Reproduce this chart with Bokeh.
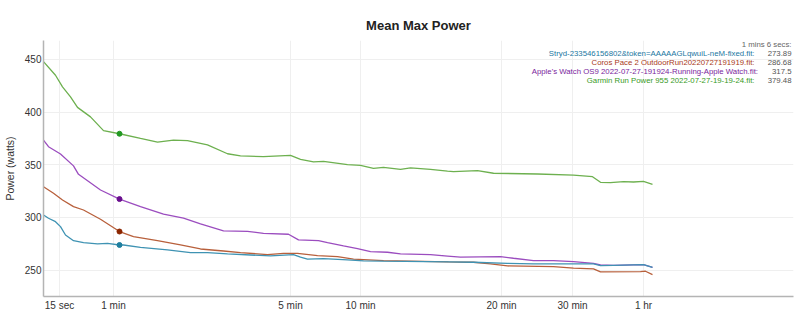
from bokeh.plotting import figure
from bokeh.models import Range1d, FixedTicker, Label
from bokeh.embed import file_html
from bokeh.resources import INLINE

# x is the chart's own time-axis position (custom, non-linear time scale)
x_ticks = [16, 70, 247, 317, 458, 529, 600, 750]
x_tick_labels = ["15 sec", "1 min", "5 min", "10 min", "20 min", "30 min", "1 hr", ""]
y_ticks = [250, 300, 350, 400, 450]

garmin_x = [0, 12, 19, 27, 34, 47, 60, 76, 97, 114, 130, 144, 164, 184, 197, 220, 247, 257, 270, 280,
            304, 317, 330, 340, 357, 367, 387, 404, 410, 434, 450, 494, 530, 549, 557, 567, 580, 590, 600, 609]
garmin_y = [448, 435, 424, 414.5, 404.5, 395.5, 382.5, 379.48, 375, 371.5, 373.5, 373, 369, 360.5, 358.5,
            357.7, 359, 355.2, 352.7, 353.3, 350.1, 349.5, 346.7, 347.6, 345.7, 347, 345.7, 344, 343.5,
            344.5, 342, 341.3, 340.3, 338.7, 333.4, 333, 334, 333.7, 334.3, 331.5]

apple_x = [0, 5, 17, 30, 35, 57, 76, 97, 120, 140, 157, 180, 204, 220, 245, 255, 275, 284, 300, 314,
           327, 344, 357, 387, 404, 417, 457, 470, 490, 510, 530, 550, 557, 570, 600, 609]
apple_y = [373.5, 367.2, 360.3, 349, 341, 326.1, 317.5, 310.3, 303.1, 299.3, 293.9, 287.2, 286.9, 285,
           284.1, 278.7, 278, 276.1, 273, 270.5, 267.6, 267, 265.4, 264.8, 263.4, 262.3, 262.9, 261.3,
           259, 259, 258.1, 256.5, 254.9, 254.6, 255.2, 252.7]

coros_x = [0, 10, 19, 30, 40, 57, 76, 90, 114, 137, 157, 180, 197, 224, 240, 254, 274, 294, 310, 340,
           405, 430, 447, 464, 510, 530, 550, 557, 597, 602, 609]
coros_y = [329.2, 323, 316.6, 310.3, 307.1, 298.3, 286.68, 281.8, 278, 273.9, 270.1, 268.2, 266.6,
           264.8, 266, 266, 263.8, 262.9, 260.4, 259, 257.8, 257.5, 255.9, 254, 253.4, 251.9, 251.3,
           248.4, 248.7, 249, 245.8]

stryd_x = [0, 5, 12, 17, 22, 30, 40, 54, 64, 76, 80, 97, 124, 147, 164, 184, 207, 227, 250, 257, 264,
           280, 304, 320, 340, 405, 430, 464, 490, 530, 550, 557, 570, 600, 609]
stryd_y = [302.4, 299.3, 296, 291.3, 283.4, 278, 276.1, 274.9, 275.5, 273.89, 273.9, 271.7, 269.2,
           266.6, 266.6, 265.4, 264.4, 263.5, 264.8, 262.3, 260.4, 261, 259.8, 258.8, 258.5, 257.8,
           257.5, 256.5, 255.9, 255.9, 255.9, 254.3, 254.6, 255.2, 252.7]

chart_title = "Mean Max Power"
readout_time = "1 mins 6 secs:"
readout_x = 76
series_names = ["Stryd-233546156802&token=AAAAAGLqwuiL-neM-fixed.fit",
                "Coros Pace 2 OutdoorRun20220727191919.fit",
                "Apple's Watch OS9 2022-07-27-191924-Running-Apple Watch.fit",
                "Garmin Run Power 955 2022-07-27-19-19-24.fit"]
readout_values = ["273.89", "286.68", "317.5", "379.48"]

FONT = "Liberation Sans"

p = figure(width=800, height=326, output_backend="svg", toolbar_location=None,
           x_range=Range1d(0, 750), y_range=Range1d(225, 468),
           min_border_left=43, min_border_right=7, min_border_top=40, min_border_bottom=30,
           title=chart_title)
p.outline_line_color = None
p.background_fill_color = "white"
p.border_fill_color = "white"

p.title.align = "center"
p.title.text_font = FONT
p.title.text_font_size = "13px"
p.title.text_font_style = "bold"
p.title.text_color = "#222222"
p.title.standoff = 15

p.xaxis.ticker = FixedTicker(ticks=x_ticks)
p.xaxis.major_label_overrides = {t: l for t, l in zip(x_ticks, x_tick_labels)}
p.yaxis.ticker = FixedTicker(ticks=y_ticks)
p.xgrid.ticker = FixedTicker(ticks=x_ticks)
p.ygrid.ticker = FixedTicker(ticks=y_ticks)
for g in (p.xgrid, p.ygrid):
    g.grid_line_color = "#efefef"
    g.grid_line_width = 1

for ax in (p.xaxis, p.yaxis):
    ax.axis_line_color = "#b4b4b4"
    ax.axis_line_width = 1.5
    ax.major_tick_line_color = None
    ax.minor_tick_line_color = None
    ax.major_tick_out = 0
    ax.major_tick_in = 0
    ax.major_label_text_font = FONT
    ax.major_label_text_font_size = "10px"
    ax.major_label_text_color = "#333333"
p.xaxis.major_label_standoff = 3
p.yaxis.major_label_standoff = 2
p.yaxis.axis_label = "Power (watts)"
p.yaxis.axis_label_text_font = FONT
p.yaxis.axis_label_text_font_size = "10.5px"
p.yaxis.axis_label_text_font_style = "normal"
p.yaxis.axis_label_text_color = "#333333"
p.yaxis.axis_label_standoff = 6

line_colors = ["#3f93b3", "#b8603c", "#9b4dbf", "#6db04f"]
marker_colors = ["#1f7f9f", "#8b2500", "#6a0f8e", "#229922"]
text_colors = ["#22779f", "#a93a18", "#7a1e9c", "#389a1e"]

series = [(stryd_x, stryd_y), (coros_x, coros_y), (apple_x, apple_y), (garmin_x, garmin_y)]
for i in [3, 2, 1, 0]:
    xs, ys = series[i]
    p.line(xs, ys, line_color=line_colors[i], line_width=1.3)
for i in range(4):
    p.scatter([readout_x], [float(readout_values[i])], size=5, color=marker_colors[i])

# readout block (top right)
right_x = 748
row_y = [456, 447.2, 438.6, 430]
name_right = [711, 711, 714.5, 711]
FS = "7.8px"
p.add_layout(Label(x=right_x, y=464.6, text=readout_time, text_align="right", text_baseline="middle",
                   text_font=FONT, text_font_size=FS, text_color="#666666"))
for i in range(4):
    p.add_layout(Label(x=right_x, y=row_y[i], text=readout_values[i], text_align="right",
                       text_baseline="middle", text_font=FONT, text_font_size=FS,
                       text_color="#555555"))
    p.add_layout(Label(x=name_right[i], y=row_y[i], text=series_names[i] + ":", text_align="right",
                       text_baseline="middle", text_font=FONT, text_font_size=FS,
                       text_color=text_colors[i]))

# edit icon at top right (canvas units)
p.add_layout(Label(x=774, y=26, x_units="canvas", y_units="canvas", text="\u270e",
                   text_align="center", text_baseline="middle",
                   text_font="DejaVu Sans", text_font_size="13px", text_font_style="bold",
                   text_color="#333333"))

open("out.html", "w").write(file_html(p, INLINE))
